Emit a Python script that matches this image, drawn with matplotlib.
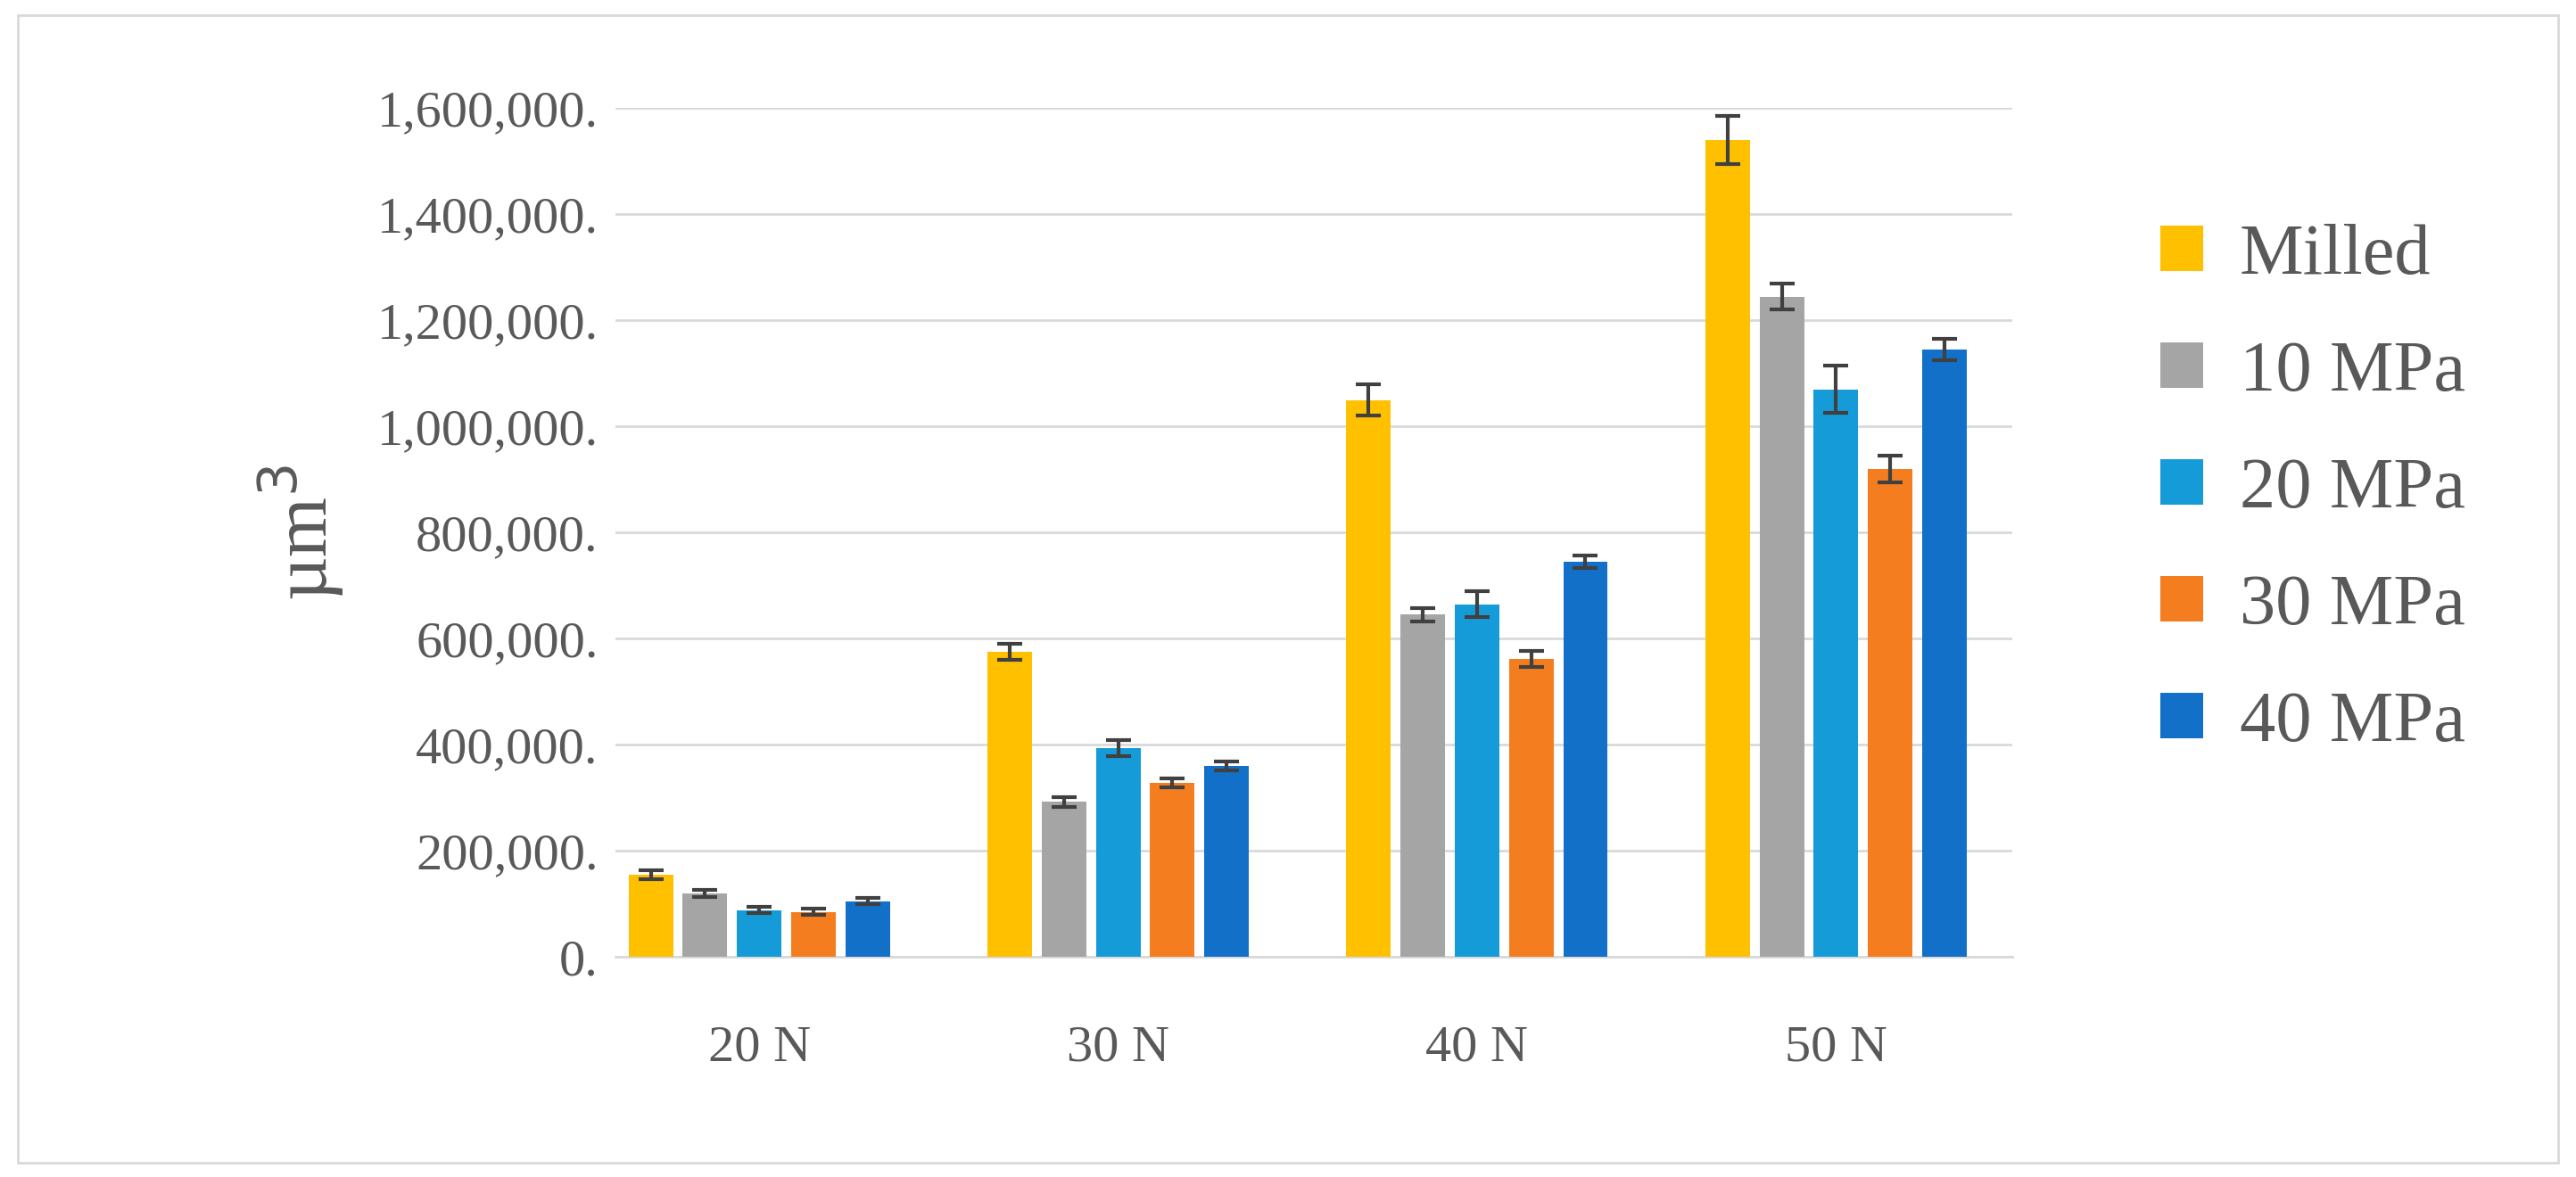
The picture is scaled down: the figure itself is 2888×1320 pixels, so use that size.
import numpy as np
import matplotlib.pyplot as plt
from matplotlib.ticker import FuncFormatter

loads = ['20 N', '30 N', '40 N', '50 N']
series = ['Milled', '10 MPa', '20 MPa', '30 MPa', '40 MPa']
milled = [155000, 575000, 1050000, 1540000]
mpa10 = [120000, 292000, 645000, 1245000]
mpa20 = [88000, 393000, 665000, 1070000]
mpa30 = [85000, 328000, 562000, 920000]
mpa40 = [105000, 360000, 745000, 1145000]
err_milled = [8000, 15000, 30000, 45000]
err_10 = [7000, 9000, 12000, 25000]
err_20 = [6000, 15000, 25000, 45000]
err_30 = [6000, 8000, 15000, 25000]
err_40 = [6000, 8000, 12000, 20000]
colors = ['#FFC000', '#A5A5A5', '#159BD8', '#F47D20', '#1270C9']

values = [milled, mpa10, mpa20, mpa30, mpa40]
errors = [err_milled, err_10, err_20, err_30, err_40]

plt.rcParams['font.family'] = ['Liberation Serif', 'DejaVu Serif']
fig = plt.figure(figsize=(28.88, 13.2), dpi=100)
fig.patches.append(plt.Rectangle((0.007, 0.012), 0.986, 0.975, transform=fig.transFigure,
                                 fill=False, edgecolor='#D9D9D9', linewidth=2))
ax = fig.add_axes([0.239, 0.187, 0.542, 0.721])

x = np.arange(len(loads))
pitch = 0.151
width = 0.124
for i, (name, vals, errs) in enumerate(zip(series, values, errors)):
    ax.bar(x + (i - 2) * pitch, vals, width, color=colors[i], label=name, zorder=3,
           yerr=errs, error_kw=dict(ecolor='#404040', elinewidth=3, capsize=10, capthick=3))

ax.set_xlim(-0.40, 3.49)
ax.set_ylim(0, 1600000)
ax.set_yticks(np.arange(0, 1600001, 200000))
ax.yaxis.set_major_formatter(FuncFormatter(lambda v, p: f'{int(v):,}.'))
ax.set_xticks(x)
ax.set_xticklabels(loads)
ax.grid(axis='y', color='#D9D9D9', linewidth=2, zorder=0)
for s in ['top', 'right', 'left']:
    ax.spines[s].set_visible(False)
ax.spines['bottom'].set_color('#D9D9D9')
ax.spines['bottom'].set_linewidth(2)
ax.tick_params(length=0, labelsize=42, colors='#595959', pad=14)
ax.tick_params(axis='x', pad=55)
ax.set_ylabel('µm$^3$', fontsize=62, color='#595959', labelpad=25)

ax.legend(loc='center left', bbox_to_anchor=(1.06, 0.55), frameon=False, fontsize=58,
          labelcolor='#595959', handlelength=0.6, handleheight=0.6, labelspacing=0.72,
          handletextpad=0.5)

fig.savefig('out.png', dpi=100)
